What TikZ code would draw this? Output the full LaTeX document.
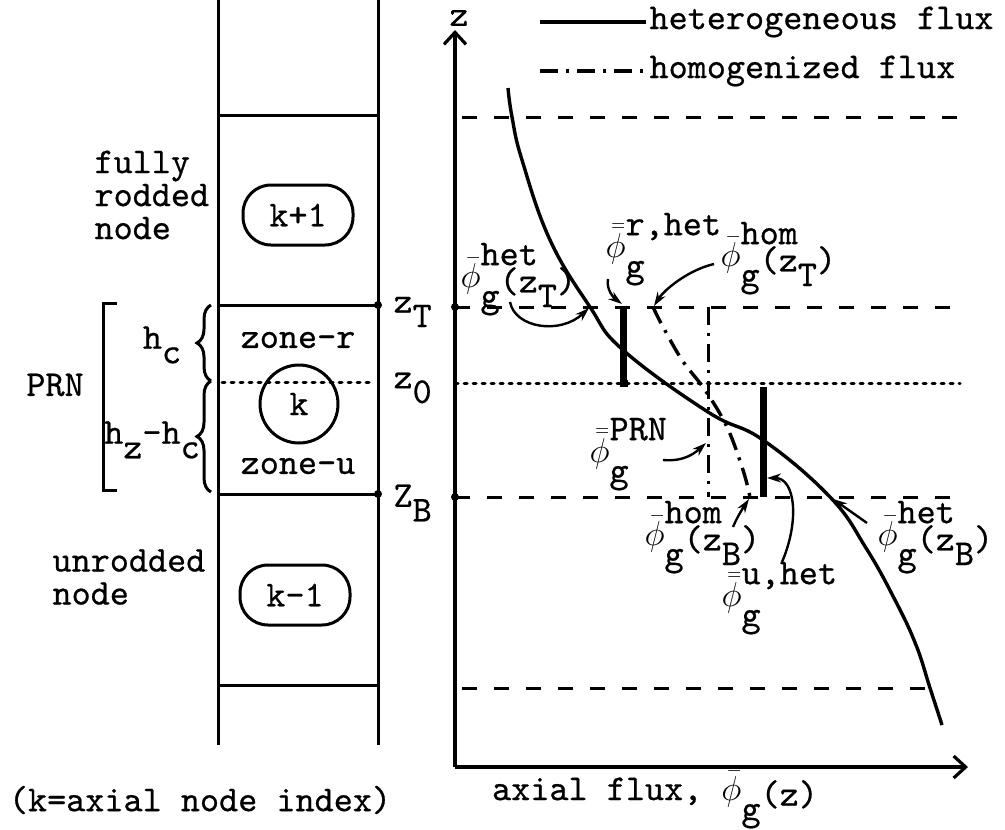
\documentclass[tikz,border=0pt]{standalone}
\usepackage{amsmath}
\usepackage{fontspec}
\setmonofont{lmmono10-regular.otf}[FakeBold=0.6]
\usepackage{tikz}
\usetikzlibrary{arrows.meta, positioning, decorations.pathreplacing}
\renewcommand{\familydefault}{\ttdefault}

% flux label: bar on phi, superscript, argument
\newcommand{\bbar}[1]{\bar{\bar{#1}}}
\newcommand{\fluxlbl}[3]{$#1{\phi}$\rlap{\raisebox{0.6em}{#2}}\raisebox{-0.55em}{g}\raisebox{-0.15em}{#3}}
\newcommand{\lowr}[1]{\raisebox{-0.4em}{#1}}

\begin{document}
\begin{tikzpicture}[x=0.5pt, y=-0.5pt, line width=1.5pt,
    font=\fontsize{18.2}{16.5}\selectfont, inner sep=1pt,
    cellnode/.style={draw, rectangle, rounded corners=14pt, minimum width=55pt, minimum height=30pt},
    knode/.style={draw, circle, minimum size=39pt, inner sep=0pt},
    gridline/.style={dash pattern=on 7.5pt off 8.5pt},
    levelline/.style={dash pattern=on 1.5pt off 3pt, line cap=round},
    homflux/.style={dash pattern=on 9pt off 4pt on 1.5pt off 4pt},
    avgbar/.style={line width=3.5pt},
    pointer/.style={-{Stealth[length=7pt,width=4.5pt]}, line width=1.2pt},
    axis/.style={-{Straight Barb[length=6pt,width=11pt]}, line width=1.6pt}]
    \useasboundingbox (0,0) rectangle (1005,829);

    % Axial nodes (left column)
    \draw (218,0) -- (218,745);
    \draw (378,0) -- (378,745);
    \foreach \zz in {115,305,494,685}
        \draw (218,\zz) -- (378,\zz);
    \draw[levelline] (222,382) -- (374,382);
    \fill (378,305) circle (2pt) (378,494) circle (2pt);

    \node[cellnode] (kup) at (298,215) {k+1};
    \node[knode] (k) at (299,404) {k};
    \node[cellnode] (kdown) at (295,595) {k-1};
    \node (zoner) at (298,340) {zone-r};
    \node (zoneu) at (298,466) {zone-u};

    \node[anchor=west, align=left] (rodded) at (91,195) {fully\\rodded\\node};
    \node[anchor=west, align=left] (unrodded) at (49,577) {unrodded\\node};
    \node (prn) at (55,385) {PRN};
    \draw (117,303) -- (103,303) -- (103,490) -- (117,490);
    \draw[decorate, decoration={brace, amplitude=7pt}] (211,381) -- (211,305);
    \draw[decorate, decoration={brace, amplitude=7pt}] (211,492) -- (211,381);
    \node (hc) at (162,345) {h\lowr{c}};
    \node (hzc) at (152,440) {h\lowr{z}-h\lowr{c}};

    \node[anchor=west] (zT) at (390,312) {z\lowr{T}};
    \node[anchor=west] (z0) at (390,388) {z\lowr{0}};
    \node[anchor=west] (zB) at (390,503) {Z\lowr{B}};

    % Axes
    \coordinate (origin) at (455,767);
    \coordinate (ztop) at (455,30);
    \coordinate (xend) at (968,767);
    \draw[axis] (origin) -- (ztop);
    \draw[axis] (origin) -- (xend);
    \node[inner sep=0pt] (zlbl) at (459,18) {z};

    % Legend
    \node[anchor=west] (lhet) at (646,22) {heterogeneous flux};
    \node[anchor=west] (lhom) at (646,71) {homogenized flux};
    \coordinate (lhetstart) at (540,22);
    \coordinate (lhomstart) at (540,71);
    \draw[line width=1.8pt] (lhetstart) -- (lhet.west);
    \draw[homflux, line width=1.8pt] (lhomstart) -- (lhom.west);

    % Node boundaries and mid level
    \draw[gridline] (462,117) -- (960,117);
    \draw[gridline] (455,307) -- (960,307);
    \draw[gridline] (455,497) -- (960,497);
    \draw[gridline] (462,688) -- (930,688);
    \draw[levelline] (455,383) -- (960,383);
    \fill (455,307) circle (2pt) (455,497) circle (2pt);

    % Fluxes
    \draw[line width=1.7pt] plot[smooth, tension=0.7] coordinates {(508,88) (512,117) (522,160) (550,240) (590,307) (623,350) (708,412) (763,440) (830,497) (866,548) (895,600) (916,645) (930,688) (942,725)};
    \draw[homflux, line width=1.7pt] plot[smooth, tension=0.6] coordinates {(653,307) (662,325) (682,360) (705,390) (727,427) (743,470) (750,497)};
    \draw[homflux] (708,307) -- (708,497);
    \draw[avgbar] (623,307) -- (623,383) -- (628,383);
    \draw[avgbar] (763,387) -- (763,497);

    \coordinate (hetT) at (589,308);
    \coordinate (rbar) at (622,304);
    \coordinate (homT) at (654,306);
    \coordinate (prnbar) at (706,443);
    \coordinate (homB) at (749,499);
    \coordinate (ubar) at (767,478);
    \coordinate (hetB) at (833,499);

    % Flux labels
    \node[anchor=base west] (lhetT) at (457,287) {\fluxlbl{\bar}{het}{(z\lowr{T})}};
    \node[anchor=base west] (lrhet) at (602,257) {\fluxlbl{\bbar}{r,het}{}};
    \node[anchor=base west] (lhomT) at (717,266) {\fluxlbl{\bar}{hom}{(z\lowr{T})}};
    \node[anchor=base west] (lprn) at (586,462) {\fluxlbl{\bbar}{PRN}{}};
    \node[anchor=base west] (lhomB) at (641,545) {\fluxlbl{\bar}{hom}{(z\lowr{B})}};
    \node[anchor=base west] (luhet) at (718,606) {\fluxlbl{\bbar}{u,het}{}};
    \node[anchor=base west] (lhetB) at (874,545) {\fluxlbl{\bar}{het}{(z\lowr{B})}};

    \coordinate (shetT) at (510,302);
    \coordinate (srhet) at (608,279);
    \coordinate (shomT) at (714,264);
    \coordinate (sprn) at (663,460);
    \coordinate (shomB) at (733,527);
    \coordinate (suhet) at (782,562);
    \coordinate (shetB) at (867,523);
    \draw[pointer] (shetT) .. controls (515,328) and (560,335) .. (hetT);
    \draw[pointer] (srhet) .. controls (606,290) and (614,298) .. (rbar);
    \draw[pointer] (shomT) .. controls (688,270) and (664,290) .. (homT);
    \draw[pointer] (sprn) .. controls (685,462) and (696,452) .. (prnbar);
    \draw[pointer] (shomB) .. controls (738,515) and (745,505) .. (homB);
    \draw[pointer] (suhet) .. controls (800,520) and (795,478) .. (ubar);
    \draw[pointer] (shetB) -- (hetB);

    % Captions
    \node (cleft) at (200,800) {(k=axial node index)};
    \node (cright) at (655,800) {axial flux, \fluxlbl{\bar}{}{(z)}};
\end{tikzpicture}
\end{document}
